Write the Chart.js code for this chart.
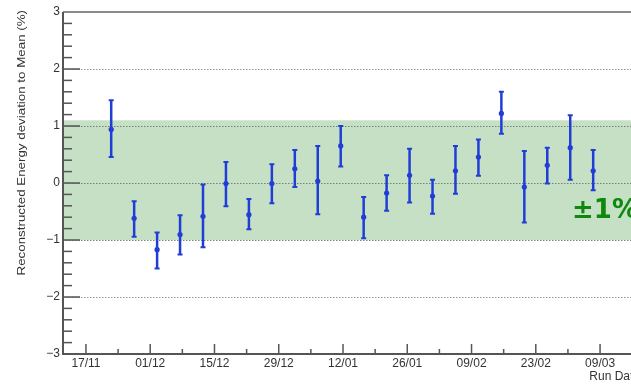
<!DOCTYPE html>
<html>
<head>
<meta charset="utf-8">
<script src="https://cdn.jsdelivr.net/npm/chart.js@4.4.1/dist/chart.umd.min.js"></script>
<style>
  html, body { margin: 0; padding: 0; background: #fff; overflow: hidden; }
  #wrap { width: 655px; height: 384px; }
</style>
</head>
<body>
<div id="wrap"><canvas id="c" width="655" height="384"></canvas></div>
<script>
// Days counted from 17/11; each run group sits at the middle of a 5-day bin.
const runDay = [5.5, 10.5, 15.5, 20.5, 25.5, 30.5, 35.5, 40.5, 45.5, 50.5, 55.5,
                60.5, 65.5, 70.5, 75.5, 80.5, 85.5, 90.5, 95.5, 100.5, 105.5, 110.5];
// Energy deviation to the mean (%) and its uncertainty
const deviation = [0.94, -0.62, -1.17, -0.905, -0.585, -0.01, -0.555, -0.01, 0.25, 0.035, 0.65,
                   -0.60, -0.175, 0.135, -0.228, 0.215, 0.455, 1.22, -0.07, 0.31, 0.62, 0.215];
const errorUp = [0.51, 0.30, 0.30, 0.34, 0.56, 0.38, 0.275, 0.34, 0.33, 0.615, 0.35,
                 0.355, 0.31, 0.465, 0.286, 0.435, 0.31, 0.38, 0.63, 0.31, 0.57, 0.365];
const errorDown = [0.485, 0.325, 0.33, 0.35, 0.543, 0.40, 0.255, 0.345, 0.32, 0.585, 0.36,
                   0.37, 0.31, 0.475, 0.312, 0.405, 0.327, 0.355, 0.625, 0.32, 0.562, 0.343];

// Date axis: labelled ticks every two weeks, small ticks in between
const majorTickDays = [0, 14, 28, 42, 56, 70, 84, 98, 112];
const majorTickLabels = ['17/11', '01/12', '15/12', '29/12', '12/01', '26/01', '09/02', '23/02', '09/03'];
const minorTickDays = [7, 21, 35, 49, 63, 77, 91, 105, 119];

// Tolerance band
const bandLow = -1.0;
const bandHigh = 1.1;
const bandLabel = '\u00b11%';

const yTitle = 'Reconstructed Energy deviation to Mean (%)';

const markColor = 'rgb(32, 62, 215)';
const axisColor = '#555';
const textColor = '#333';
const FONT = '"Liberation Sans", Arial, Helvetica, sans-serif';

const rootStyle = {
  id: 'rootStyle',
  beforeDatasetsDraw(chart) {
    const { ctx, chartArea: a, scales: { x, y } } = chart;
    ctx.save();
    // green tolerance band
    const yTop = y.getPixelForValue(bandHigh);
    const yBot = y.getPixelForValue(bandLow);
    ctx.fillStyle = 'rgb(198, 224, 197)';
    ctx.fillRect(a.left, yTop, a.right - a.left, yBot - yTop);

    // dotted grid at whole percent values
    ctx.setLineDash([1.5, 1.5]);
    ctx.lineWidth = 1;
    for (let v = -2; v <= 2; v++) {
      const py = Math.round(y.getPixelForValue(v)) + 0.5;
      ctx.strokeStyle = (v >= bandLow && v <= bandHigh) ? 'rgba(110,120,110,0.9)' : 'rgba(140,140,140,0.9)';
      ctx.beginPath();
      ctx.moveTo(a.left, py);
      ctx.lineTo(a.right, py);
      ctx.stroke();
    }
    ctx.setLineDash([]);

    // y ticks: long at integers, short every 0.2
    ctx.strokeStyle = axisColor;
    ctx.lineWidth = 1.5;
    for (let k = -15; k <= 15; k++) {
      const py = y.getPixelForValue(k / 5);
      const len = (k % 5 === 0) ? 17 : 9;
      ctx.beginPath();
      ctx.moveTo(a.left, py);
      ctx.lineTo(a.left + len, py);
      ctx.stroke();
    }
    // x ticks
    majorTickDays.forEach(d => {
      const px = x.getPixelForValue(d);
      ctx.beginPath();
      ctx.moveTo(px, a.bottom);
      ctx.lineTo(px, a.bottom - 10);
      ctx.stroke();
    });
    minorTickDays.forEach(d => {
      const px = x.getPixelForValue(d);
      ctx.beginPath();
      ctx.moveTo(px, a.bottom);
      ctx.lineTo(px, a.bottom - 5);
      ctx.stroke();
    });

    // frame
    ctx.lineWidth = 2;
    ctx.strokeStyle = '#8a8a8a';
    ctx.beginPath();
    ctx.moveTo(a.left, a.top);
    ctx.lineTo(a.right, a.top);
    ctx.stroke();
    ctx.strokeStyle = axisColor;
    ctx.beginPath();
    ctx.moveTo(a.left, a.top);
    ctx.lineTo(a.left, a.bottom);
    ctx.lineTo(a.right, a.bottom);
    ctx.stroke();

    // error bars
    ctx.strokeStyle = markColor;
    runDay.forEach((d, i) => {
      const px = x.getPixelForValue(d);
      const hi = y.getPixelForValue(deviation[i] + errorUp[i]);
      const lo = y.getPixelForValue(deviation[i] - errorDown[i]);
      ctx.lineWidth = 2.5;
      ctx.beginPath();
      ctx.moveTo(px, hi);
      ctx.lineTo(px, lo);
      ctx.stroke();
      ctx.lineWidth = 2;
      ctx.beginPath();
      ctx.moveTo(px - 2.5, hi);
      ctx.lineTo(px + 2.5, hi);
      ctx.moveTo(px - 2.5, lo);
      ctx.lineTo(px + 2.5, lo);
      ctx.stroke();
    });
    ctx.restore();
  },
  afterDatasetsDraw(chart) {
    const { ctx, chartArea: a } = chart;
    ctx.save();
    // band label
    ctx.fillStyle = 'rgb(14, 136, 14)';
    ctx.font = 'bold 26px "DejaVu Sans", sans-serif';
    ctx.textBaseline = 'alphabetic';
    ctx.textAlign = 'left';
    ctx.fillText(bandLabel, 572, 218);

    // y axis title, set along the axis and ending at its top
    ctx.fillStyle = textColor;
    ctx.font = '11.5px ' + FONT;
    ctx.textBaseline = 'middle';
    ctx.textAlign = 'right';
    ctx.translate(22, a.top - 2);
    ctx.rotate(-Math.PI / 2);
    ctx.scale(1.16, 1);
    ctx.fillText(yTitle, 0, 0);
    ctx.restore();
  }
};

new Chart(document.getElementById('c'), {
  type: 'scatter',
  data: {
    datasets: [{
      data: runDay.map((d, i) => ({ x: d, y: deviation[i] })),
      pointRadius: 2.6,
      pointBackgroundColor: markColor,
      pointBorderWidth: 0,
      showLine: false
    }]
  },
  options: {
    responsive: false,
    animation: false,
    devicePixelRatio: 1,
    layout: { padding: { top: 12, right: 15, left: 0, bottom: 0 } },
    plugins: { legend: { display: false }, tooltip: { enabled: false } },
    scales: {
      x: {
        type: 'linear',
        min: -5,
        max: 120.7,
        afterBuildTicks: s => { s.ticks = majorTickDays.map(v => ({ value: v })); },
        afterFit: s => { s.height = 30; },
        grid: { display: false, drawTicks: false },
        border: { display: false },
        ticks: {
          autoSkip: false,
          maxRotation: 0,
          padding: 2,
          color: textColor,
          font: { family: FONT, size: 12 },
          callback: (v, i) => majorTickLabels[i]
        },
        title: {
          display: true,
          text: 'Run Date',
          align: 'end',
          color: textColor,
          font: { family: FONT, size: 12 },
          padding: { top: 0, bottom: 0 }
        }
      },
      y: {
        min: -3,
        max: 3,
        afterFit: s => { s.width = 63; },
        grid: { display: false, drawTicks: false },
        border: { display: false },
        ticks: {
          stepSize: 1,
          padding: 3,
          color: textColor,
          font: { family: FONT, size: 12 },
          callback: v => (v < 0 ? '\u2212' + Math.abs(v) : String(v))
        },
        title: { display: false }
      }
    }
  },
  plugins: [rootStyle]
});
</script>
</body>
</html>
